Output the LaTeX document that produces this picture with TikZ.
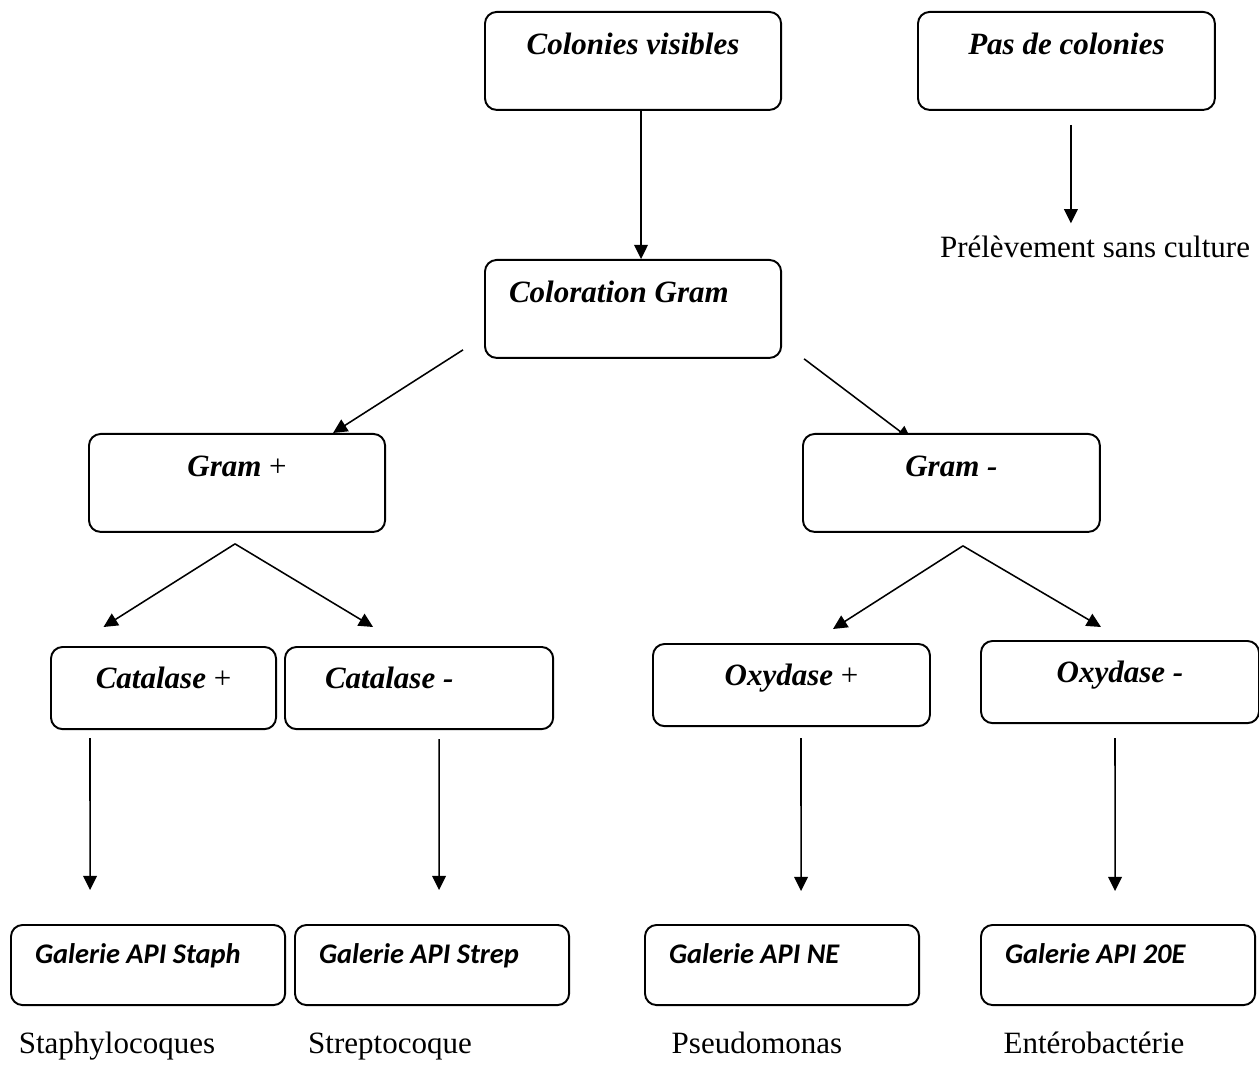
\documentclass[tikz,border=0pt]{standalone}
\usepackage{fontspec}
\setmainfont{Liberation Serif}
\newfontfamily\calibrifont{Carlito}
\usetikzlibrary{calc,arrows.meta,backgrounds}

\begin{document}
\begin{tikzpicture}[x=0.387pt, y=-0.387pt, >={Triangle[length=5.5pt,width=5.3pt]}]
    % Define styles for boxes, results and arrows
    \tikzstyle{box} = [draw, fill=white, rectangle, rounded corners=4.5pt, line width=0.75pt, anchor=north west, inner ysep=0pt, font=\fontsize{12}{14}\selectfont\bfseries\itshape]
    \tikzstyle{tall} = [text height=16.6pt, text depth=21.3pt]
    \tikzstyle{short} = [text height=15.9pt, text depth=15.9pt]
    \tikzstyle{api} = [box, text height=15.1pt, text depth=15.9pt, text width=87.5pt, inner xsep=9.3pt, align=flush left, font=\fontsize{11}{13}\selectfont\calibrifont\bfseries\itshape]
    \tikzstyle{result} = [anchor=base, font=\fontsize{12}{14}\selectfont]
    \tikzstyle{flow} = [->, line width=0.6pt]

    \useasboundingbox (0,0) rectangle (1259,1066);

    % Nodes placement
    \node [box, tall, minimum width=114.6pt] (colonies) at (484,11) {Colonies visibles};
    \node [box, tall, minimum width=114.9pt] (pasdecol) at (917,11) {Pas de colonies};
    \node [result] (prelev) at (1095,258) {Prélèvement sans culture};
    \node [box, tall, text width=96pt, inner xsep=9.3pt, align=flush left] (coloration) at (484,259) {Coloration Gram};
    \node [box, tall, minimum width=114.6pt] (grampos) at (88,433) {Gram {\normalfont +}};
    \node [box, tall, minimum width=114.9pt] (gramneg) at (802,433) {Gram -};
    \node [box, short, minimum width=87.1pt] (catpos) at (50,646) {Catalase {\normalfont +}};
    \node [box, short, text width=72.8pt, inner xsep=15.5pt, align=flush left] (catneg) at (284,646) {Catalase -};
    \node [box, short, minimum width=107.2pt] (oxypos) at (652,643) {Oxydase {\normalfont +}};
    \node [box, short, minimum width=107.6pt] (oxyneg) at (980,640) {Oxydase -};
    \node [api] (galstaph) at (10,924) {Galerie API Staph};
    \node [api] (galstrep) at (294,924) {Galerie API Strep};
    \node [api] (galne) at (644,924) {Galerie API NE};
    \node [api] (gal20e) at (980,924) {Galerie API 20E};
    \node [result] (staph) at (117,1053) {Staphylocoques};
    \node [result] (strep) at (390,1053) {Streptocoque};
    \node [result] (pseudo) at (757,1053) {Pseudomonas};
    \node [result] (entero) at (1094,1053) {Entérobactérie};

    % Draw edges (under the boxes)
    \begin{scope}[on background layer]
        \draw[flow] ($(colonies.south)+(8,0)$) -- ($(coloration.north)+(8,0)$);
        \draw[flow] ($(pasdecol.south)+(4.5,14)$) -- ($(prelev.north -| pasdecol.south)+(4.5,-4)$);
        \draw[flow] ($(coloration.south west)+(-21,-9)$) -- ($(grampos.north)+(96,0)$);
        \draw[flow] ($(coloration.south east)+(22,0)$) -- ($(gramneg.north)+(-40,7)$);
        \draw[flow] ($(grampos.south)+(-2,11)$) -- ($(catpos.north)+(-60,-19)$);
        \draw[flow] ($(grampos.south)+(-2,11)$) -- ($(catneg.north)+(-46,-19)$);
        \draw[flow] ($(gramneg.south)+(11.5,13)$) -- ($(oxypos.north)+(41.5,-14)$);
        \draw[flow] ($(gramneg.south)+(11.5,13)$) -- ($(oxyneg.north)+(-19,-13)$);
        \draw[flow] ($(catpos.south)+(-73.5,8)$) -- ($(galstaph.north)+(-58,-34)$);
        \draw[flow] ($(catneg.south)+(20,9)$) -- ($(galstrep.north)+(7,-34)$);
        \draw[flow] ($(oxypos.south)+(9.5,11)$) -- ($(galne.north)+(19,-33)$);
        \draw[flow] ($(oxyneg.south)+(-5,14)$) -- ($(gal20e.north)+(-3,-33)$);
    \end{scope}
\end{tikzpicture}
\end{document}
